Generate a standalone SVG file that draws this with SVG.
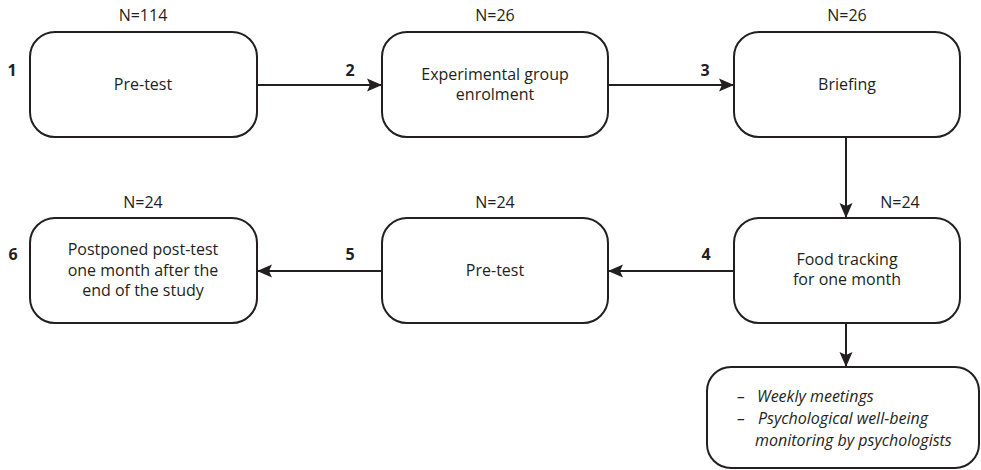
<svg xmlns="http://www.w3.org/2000/svg" width="981" height="470" viewBox="0 0 981 470">
<style>
.box{fill:#fff;stroke:#231f20;stroke-width:2}
.t{font-family:"Open Sans","Liberation Sans",sans-serif;font-size:16px;fill:#231f20;text-anchor:middle}
.n{font-family:"Open Sans","Liberation Sans",sans-serif;font-size:16px;fill:#231f20;text-anchor:middle}
.num{font-family:"Open Sans","Liberation Sans",sans-serif;font-size:16px;font-weight:bold;fill:#231f20;text-anchor:middle}
.it{font-family:"Open Sans","Liberation Sans",sans-serif;font-size:16px;font-style:italic;fill:#231f20}
.c{fill:none;stroke:#231f20;stroke-width:2}
</style>
<defs>
<marker id="ah" markerUnits="userSpaceOnUse" markerWidth="16" markerHeight="14" refX="15" refY="7" orient="auto">
<path d="M0,0.5 L15,7 L0,13.5 L3,7 Z" fill="#231f20"/>
</marker>
</defs>
<rect width="981" height="470" fill="#fff"/>
<g id="connectors">
<line class="c" x1="257" y1="85" x2="382" y2="85" marker-end="url(#ah)"/>
<line class="c" x1="608" y1="85" x2="734" y2="85" marker-end="url(#ah)"/>
<line class="c" x1="846" y1="137" x2="846" y2="218" marker-end="url(#ah)"/>
<line class="c" x1="734" y1="271" x2="608" y2="271" marker-end="url(#ah)"/>
<line class="c" x1="382" y1="271" x2="257" y2="271" marker-end="url(#ah)"/>
<line class="c" x1="846" y1="323" x2="846" y2="367" marker-end="url(#ah)"/>
<text class="num" x="350" y="76">2</text>
<text class="num" x="705" y="76">3</text>
<text class="num" x="706" y="260">4</text>
<text class="num" x="350" y="260">5</text>
</g>
<g id="node1">
<rect class="box" x="30" y="32" width="227" height="105" rx="25"/>
<text class="t" x="143" y="90">Pre-test</text>
<text class="n" x="143" y="21">N=114</text>
<text class="num" x="12" y="76">1</text>
</g>
<g id="node2">
<rect class="box" x="382" y="32" width="226" height="105" rx="25"/>
<text class="t" x="495" y="80">Experimental group</text>
<text class="t" x="495" y="100">enrolment</text>
<text class="n" x="495" y="21">N=26</text>
</g>
<g id="node3">
<rect class="box" x="734" y="32" width="226" height="105" rx="25"/>
<text class="t" x="847" y="90">Briefing</text>
<text class="n" x="847" y="21">N=26</text>
</g>
<g id="node4">
<rect class="box" x="734" y="218" width="226" height="105" rx="25"/>
<text class="t" x="847" y="265">Food tracking</text>
<text class="t" x="847" y="285">for one month</text>
<text class="n" x="900" y="208">N=24</text>
</g>
<g id="node5">
<rect class="box" x="382" y="218" width="226" height="105" rx="25"/>
<text class="t" x="495" y="276">Pre-test</text>
<text class="n" x="495" y="208">N=24</text>
</g>
<g id="node6">
<rect class="box" x="30" y="218" width="227" height="105" rx="25"/>
<text class="t" x="143" y="255">Postponed post-test</text>
<text class="t" x="143" y="276">one month after the</text>
<text class="t" x="143" y="296">end of the study</text>
<text class="n" x="143" y="208">N=24</text>
<text class="num" x="13" y="260">6</text>
</g>
<g id="node7">
<rect class="box" x="707" y="367" width="272" height="101" rx="24"/>
<text class="it" x="737" y="402">–</text>
<text class="it" x="757" y="402">Weekly meetings</text>
<text class="it" x="737" y="424">–</text>
<text class="it" x="758" y="424">Psychological well-being</text>
<text class="it" x="755" y="446">monitoring by psychologists</text>
</g>
</svg>
